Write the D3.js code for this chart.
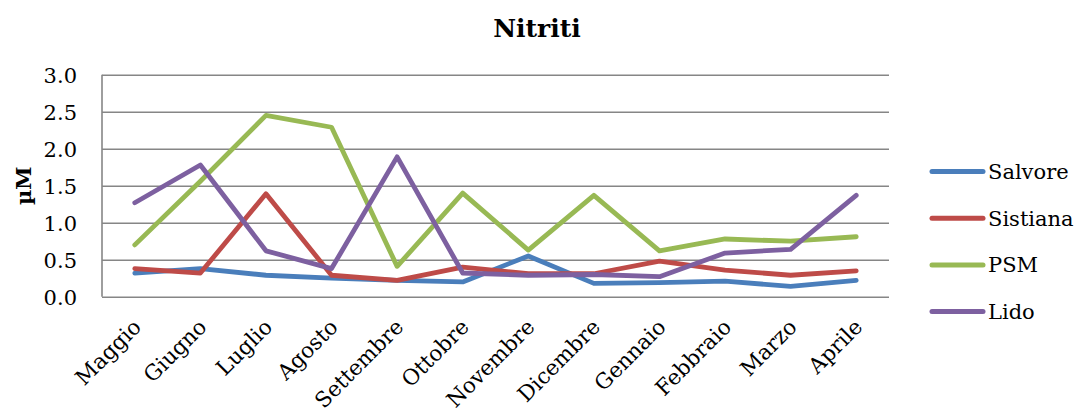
<!DOCTYPE html>
<html>
<head>
<meta charset="utf-8">
<script src="https://cdn.jsdelivr.net/npm/d3@7"></script>
<style>
  html, body { margin: 0; padding: 0; background: #fff; }
  svg { display: block; }
  text { font-family: "DejaVu Serif", "Liberation Serif", serif; fill: #000; }
</style>
</head>
<body>
<svg id="chart" width="1082" height="417"></svg>
<script>
// Monthly nitrite concentrations (µM) at four stations
const months = ["Maggio", "Giugno", "Luglio", "Agosto", "Settembre", "Ottobre",
                "Novembre", "Dicembre", "Gennaio", "Febbraio", "Marzo", "Aprile"];
const salvore  = [0.32, 0.38, 0.29, 0.25, 0.22, 0.20, 0.55, 0.18, 0.19, 0.21, 0.14, 0.22];
const sistiana = [0.38, 0.32, 1.39, 0.29, 0.22, 0.40, 0.31, 0.31, 0.48, 0.36, 0.29, 0.35];
const psm      = [0.70, 1.56, 2.45, 2.29, 0.41, 1.40, 0.63, 1.37, 0.62, 0.78, 0.75, 0.81];
const lido     = [1.27, 1.78, 0.62, 0.38, 1.89, 0.32, 0.29, 0.30, 0.27, 0.59, 0.64, 1.37];
const seriesNames = ["Salvore", "Sistiana", "PSM", "Lido"];
const seriesColors = ["#4a7ebb", "#be4b48", "#98b954", "#7d60a0"];
const yTicks = [0, 0.5, 1.0, 1.5, 2.0, 2.5, 3.0];

const series = [salvore, sistiana, psm, lido].map((values, i) => ({
  name: seriesNames[i], color: seriesColors[i], values
}));

const svg = d3.select("#chart");
const plot = { left: 102, right: 889, top: 74.7, bottom: 296.7 };

const x = d3.scaleBand().domain(months).range([plot.left, plot.right]);
const y = d3.scaleLinear().domain([0, 3]).range([plot.bottom, plot.top]);

// Title
svg.append("text")
  .attr("x", 537).attr("y", 37)
  .attr("text-anchor", "middle")
  .attr("font-size", 25).attr("font-weight", "bold")
  .text("Nitriti");

// Horizontal gridlines
const yAxis = d3.axisLeft(y).tickValues(yTicks)
  .tickSize(-(plot.right - plot.left)).tickPadding(25)
  .tickFormat(d3.format(".1f"));
const gy = svg.append("g").attr("transform", `translate(${plot.left},0)`).call(yAxis);
gy.select(".domain").remove();
gy.selectAll(".tick line").attr("stroke", "#868686").attr("stroke-width", 1.6);
gy.selectAll(".tick text").attr("font-size", 21).attr("font-family", "DejaVu Serif, serif")
  .attr("fill", "#000").attr("dy", "0.36em");

// Vertical axis line
svg.append("line")
  .attr("x1", plot.left).attr("x2", plot.left)
  .attr("y1", plot.top).attr("y2", plot.bottom)
  .attr("stroke", "#868686").attr("stroke-width", 1.6);

// Y axis title
svg.append("text")
  .attr("transform", `translate(31,${(plot.top + plot.bottom) / 2}) rotate(-90)`)
  .attr("text-anchor", "middle")
  .attr("font-size", 21).attr("font-weight", "bold")
  .text("µM");

// Category labels, rotated
const xAxis = d3.axisBottom(x).tickSize(0).tickPadding(0);
const gx = svg.append("g").attr("transform", `translate(0,${plot.bottom})`).call(xAxis);
gx.select(".domain").remove();
gx.selectAll(".tick text")
  .attr("font-size", 21.5).attr("font-family", "DejaVu Serif, serif").attr("fill", "#000")
  .attr("text-anchor", "end")
  .attr("transform", "translate(-3,21) rotate(-45)")
  .attr("dy", "0.7em").attr("y", 0);

// Data lines
const line = d3.line()
  .x((d, i) => x(months[i]) + x.bandwidth() / 2)
  .y(d => y(d));

svg.append("g").selectAll("path")
  .data(series).join("path")
  .attr("d", d => line(d.values))
  .attr("fill", "none")
  .attr("stroke", d => d.color)
  .attr("stroke-width", 4.8)
  .attr("stroke-linejoin", "round")
  .attr("stroke-linecap", "round");

// Legend
const legend = svg.append("g").selectAll("g")
  .data(series).join("g")
  .attr("transform", (d, i) => `translate(930,${171.5 + i * 46.7})`);
legend.append("line")
  .attr("x1", 2).attr("x2", 53)
  .attr("stroke", d => d.color).attr("stroke-width", 5)
  .attr("stroke-linecap", "round");
legend.append("text")
  .attr("x", 58).attr("dy", "0.36em")
  .attr("font-size", 21)
  .text(d => d.name);
</script>
</body>
</html>
